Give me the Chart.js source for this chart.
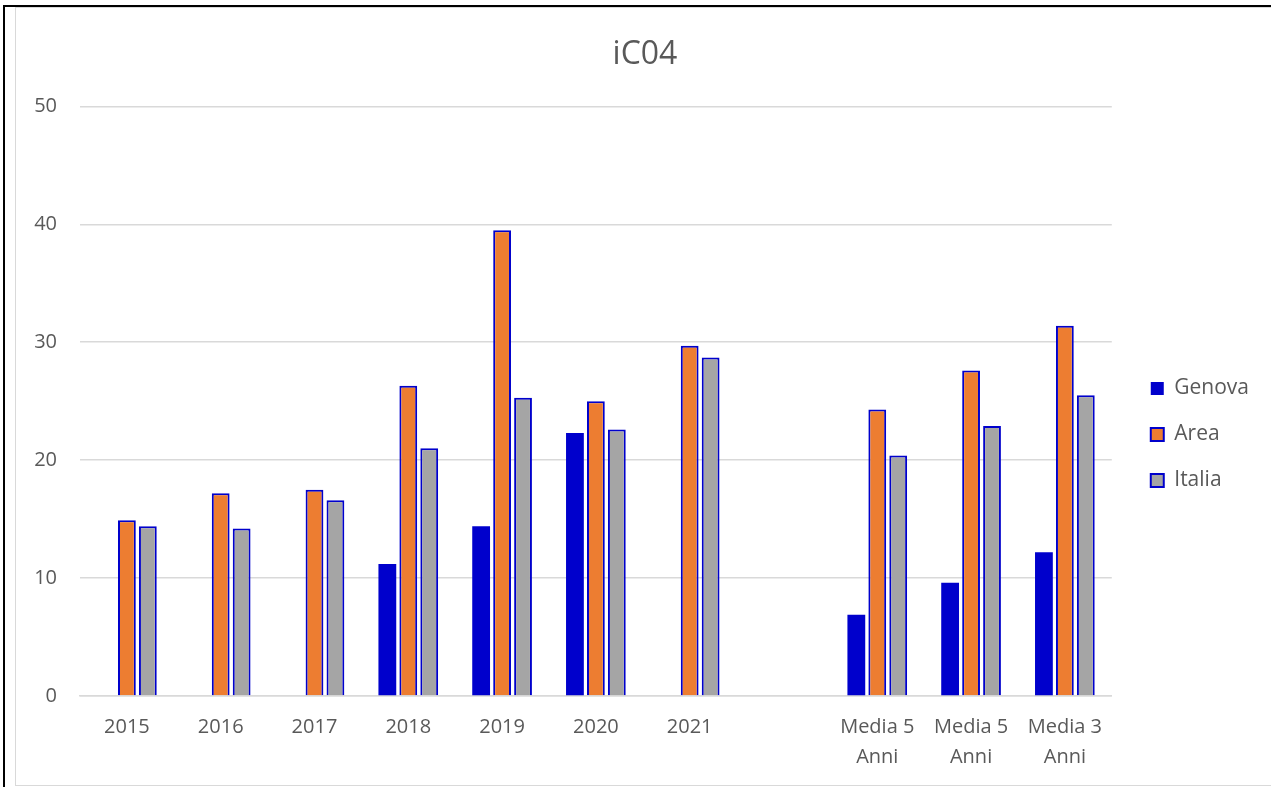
<!DOCTYPE html>
<html>
<head>
<meta charset="utf-8">
<script src="https://cdn.jsdelivr.net/npm/chart.js@4.4.0/dist/chart.umd.min.js"></script>
<style>
  html, body { margin: 0; padding: 0; background: #ffffff; }
  body { width: 1271px; height: 787px; position: relative; overflow: hidden; }
  #frame { position: absolute; left: 3px; top: 5px; width: 1280px; height: 790px;
           border-left: 2px solid #000; border-top: 2px solid #000; box-sizing: border-box; }
  #inner { position: absolute; left: 15px; top: 7px; width: 1270px; height: 779px;
           border: 1px solid #d9d9d9; box-sizing: border-box; background: #fff; }
  #wrap { position: absolute; left: 16px; top: 8px; width: 1255px; height: 780px; }
</style>
</head>
<body>
<div id="frame"></div>
<div id="inner"></div>
<div id="wrap"><canvas id="c"></canvas></div>
<script>
const categories = ['2015', '2016', '2017', '2018', '2019', '2020', '2021', '', ['Media 5', 'Anni'], ['Media 5', 'Anni'], ['Media 3', 'Anni']];
const genova = [null, null, null, 11.2, 14.4, 22.3, null, null, 6.9, 9.6, 12.2];
const area   = [14.9, 17.2, 17.5, 26.3, 39.5, 25.0, 29.7, null, 24.3, 27.6, 31.4];
const italia = [14.4, 14.2, 16.6, 21.0, 25.3, 22.6, 28.7, null, 20.4, 22.9, 25.5];
const yTicks = [0, 10, 20, 30, 40, 50];

const FONT = "'Open Sans', 'Noto Sans', sans-serif";
const TXT = '#595959';

// keeps the legend a little wider and its items shifted right, like the reference
const legendShift = {
  id: 'legendShift',
  beforeUpdate(chart) {
    const lg = chart.legend;
    if (lg && !lg._patched) {
      const orig = lg.fit.bind(lg);
      lg.fit = function () { orig(); this.width += 11; };
      lg._patched = true;
    }
  },
  afterLayout(chart) {
    const lg = chart.legend;
    if (lg) { lg.left += 14; lg.right += 14; }
  }
};

new Chart(document.getElementById('c'), {
  type: 'bar',
  data: {
    labels: categories,
    datasets: [
      { label: 'Genova', data: genova, backgroundColor: '#0000CC', borderColor: '#0000CC', borderWidth: 0 },
      { label: 'Area', data: area, backgroundColor: '#ED7D31', borderColor: '#0000CC', borderWidth: 2 },
      { label: 'Italia', data: italia, backgroundColor: '#A5A5A5', borderColor: '#0000CC', borderWidth: 2 }
    ]
  },
  plugins: [legendShift],
  options: {
    responsive: true,
    maintainAspectRatio: false,
    animation: false,
    datasets: { bar: { categoryPercentage: 0.67, barPercentage: 0.85 } },
    layout: { padding: { left: 18, right: 15, top: 28, bottom: 0 } },
    plugins: {
      title: {
        display: true, text: 'iC04', color: TXT,
        font: { family: FONT, size: 32, weight: 'normal' },
        padding: { top: 0, bottom: 32 }
      },
      legend: {
        position: 'right',
        align: 'center',
        title: { display: true, text: ' ', padding: { top: 33, bottom: 0 }, font: { size: 10 } },
        labels: {
          color: TXT, boxWidth: 13, boxHeight: 13, padding: 25,
          font: { family: FONT, size: 21 }
        }
      },
      tooltip: { enabled: false }
    },
    scales: {
      x: {
        grid: { display: false, drawTicks: false },
        border: { display: true, color: '#d9d9d9', width: 1.5 },
        ticks: { color: TXT, padding: 16, maxRotation: 0, autoSkip: false,
                 font: { family: FONT, size: 20, lineHeight: 1.5 } }
      },
      y: {
        min: 0, max: 50,
        afterBuildTicks: (s) => { s.ticks = yTicks.map(v => ({ value: v })); },
        afterFit: (s) => { s.width = 46; },
        grid: { color: '#d9d9d9', lineWidth: 1.5, drawTicks: false },
        border: { display: false },
        ticks: { color: TXT, padding: 23, font: { family: FONT, size: 20 } }
      }
    }
  }
});
</script>
</body>
</html>
